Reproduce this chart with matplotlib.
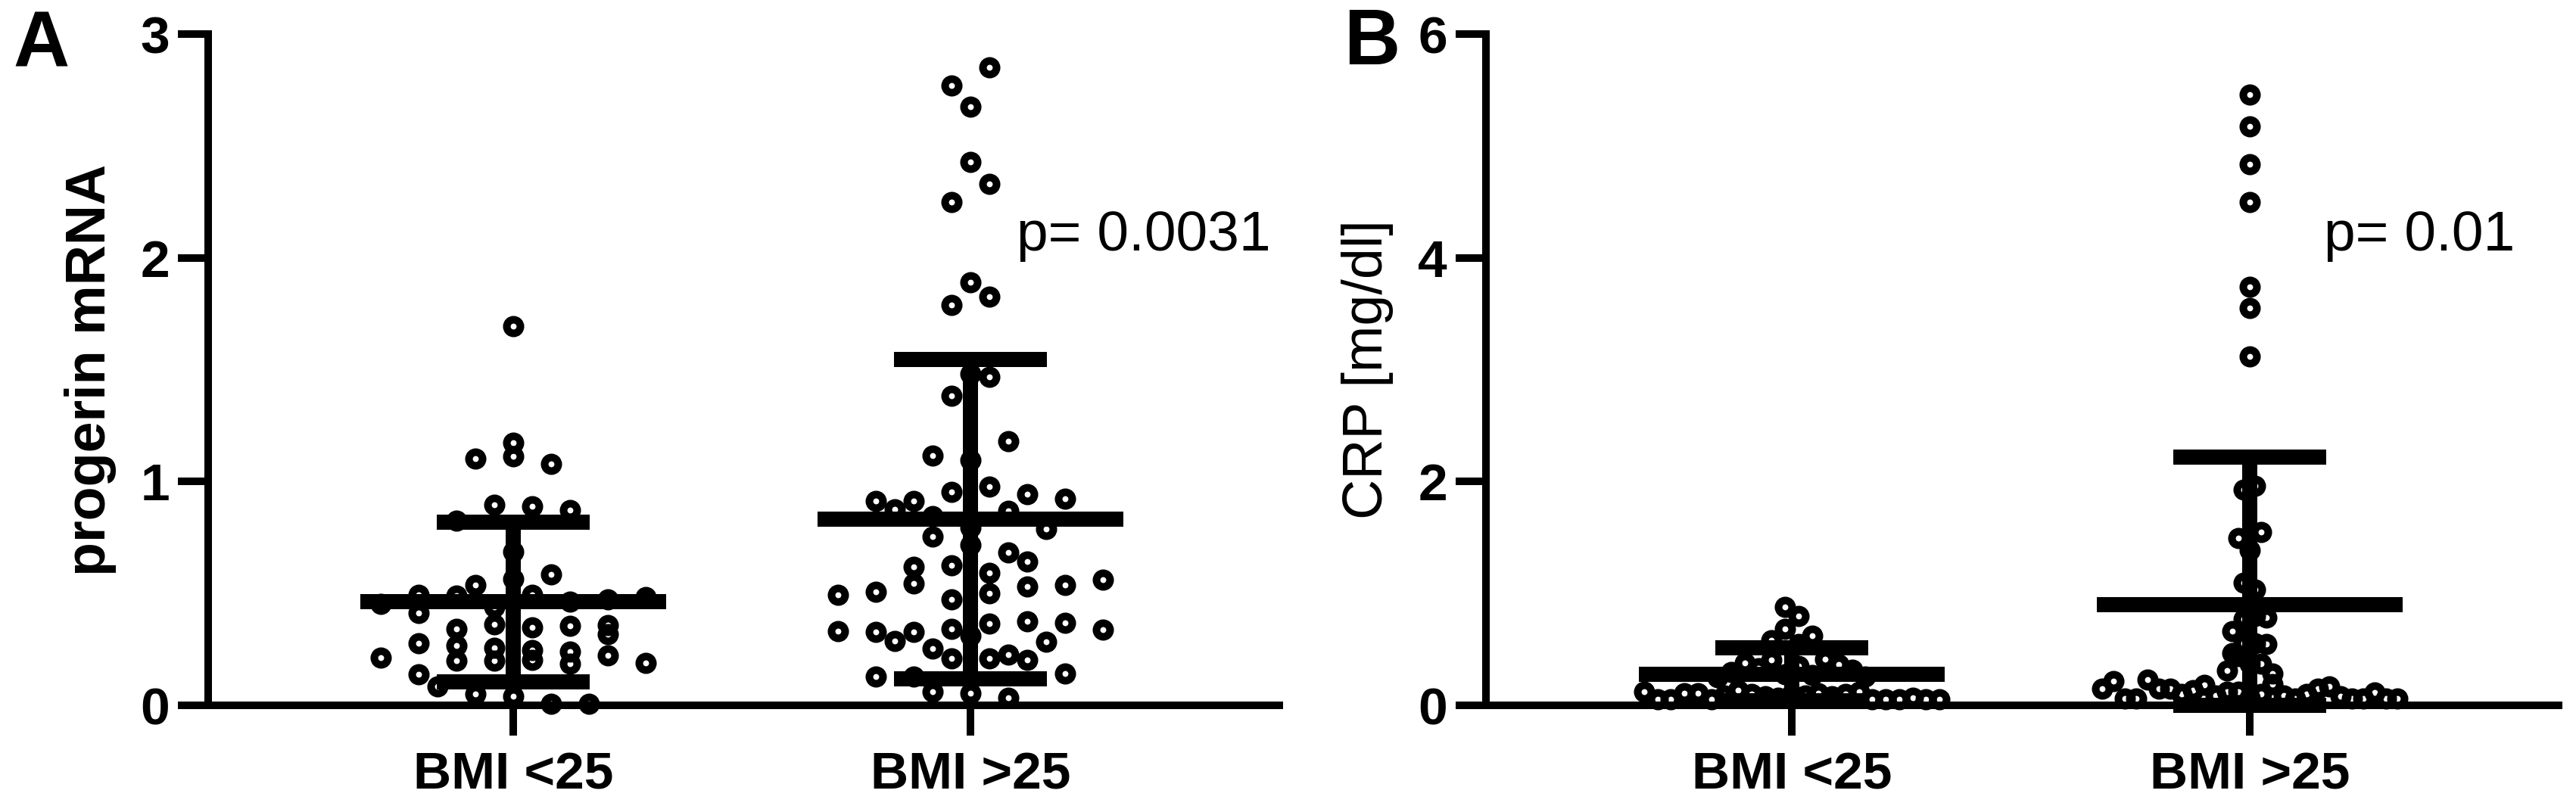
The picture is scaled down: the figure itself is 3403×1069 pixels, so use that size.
import numpy as np
import matplotlib
matplotlib.use("Agg")
import matplotlib.pyplot as plt

plt.rcParams['font.family'] = ['Liberation Sans', 'DejaVu Sans']

# ---------------- data ----------------
categories = ['BMI <25', 'BMI >25']

progerin_bmi_lt25 = [0.083, 0.050, 0.042, 0.008, 0.006,
                     0.212, 0.139, 0.200, 0.200, 0.204, 0.186, 0.224, 0.190,
                     0.279, 0.267, 0.258, 0.246, 0.240, 0.317,
                     0.412, 0.343, 0.362, 0.347, 0.355, 0.358,
                     0.453, 0.495, 0.489, 0.440, 0.495, 0.465, 0.473, 0.483,
                     0.539, 0.566, 0.585,
                     0.685,
                     0.825, 0.896, 0.889, 0.871,
                     1.101, 1.114, 1.080,
                     1.174,
                     1.696]

progerin_bmi_gt25 = [0.061, 0.055, 0.035,
                     0.129, 0.129, 0.210, 0.210, 0.204, 0.142,
                     0.289, 0.255, 0.311, 0.227, 0.285,
                     0.331, 0.327, 0.327, 0.343, 0.364, 0.374, 0.370, 0.339,
                     0.495, 0.506, 0.546, 0.472, 0.499, 0.530, 0.537, 0.560,
                     0.618, 0.627, 0.591, 0.644,
                     0.753, 0.717, 0.683,
                     0.875, 0.847, 0.796, 0.869, 0.789,
                     0.912, 0.912, 0.954, 0.977, 0.945, 0.922,
                     1.116, 1.095, 1.181,
                     1.385, 1.467, 1.483,
                     1.790, 1.827, 1.891,
                     2.250, 2.329, 2.428,
                     2.676, 2.771, 2.850]

crp_bmi_lt25 = [0.120, 0.054, 0.054, 0.108, 0.108, 0.054, 0.090, 0.137, 0.100,
                0.080, 0.070, 0.100, 0.090, 0.110, 0.080, 0.100, 0.120, 0.054,
                0.054, 0.054, 0.065, 0.054, 0.054,
                0.250, 0.300, 0.379, 0.330, 0.408, 0.280, 0.350, 0.270,
                0.413, 0.363, 0.320, 0.260,
                0.580, 0.680, 0.550, 0.622,
                0.880, 0.800]

crp_bmi_gt25 = [0.152, 0.215, 0.058, 0.058, 0.228, 0.150, 0.150, 0.100, 0.138,
                0.183, 0.090, 0.120, 0.120, 0.070, 0.100, 0.192, 0.090, 0.060,
                0.100, 0.150, 0.170, 0.080, 0.058, 0.058, 0.115, 0.058, 0.058,
                0.310, 0.440, 0.370, 0.370, 0.284,
                0.465, 0.555, 0.558, 0.550,
                0.663, 0.770, 0.800, 0.785,
                1.099, 1.038,
                1.497, 1.387, 1.551,
                1.928, 1.965,
                3.116, 3.554, 3.741, 4.497, 4.835, 5.176, 5.457]

progerin_mean = [0.463, 0.832]
progerin_sd = [0.357, 0.713]
crp_mean = [0.279, 0.898]
crp_sd = [0.237, 1.32]

progerin_yticks = [0, 1, 2, 3]
crp_yticks = [0, 2, 4, 6]
p_texts = ['p= 0.0031', 'p= 0.01']

# ---------------- layout helpers ----------------
W, H, DPI = 3403, 1069, 100
fig = plt.figure(figsize=(W / DPI, H / DPI), dpi=DPI)

ax_a = fig.add_axes([275 / W, 1 - 932 / H, 1415 / W, 887 / H])
ax_b = fig.add_axes([1963 / W, 1 - 932 / H, 1417 / W, 887 / H])


def swarm_offsets(values, row_h, max_step, max_width):
    vals = np.asarray(values, dtype=float)
    order = np.argsort(vals, kind='stable')
    rows, cur, start = [], [], None
    for i in order:
        if start is None or vals[i] >= start + row_h:
            if cur:
                rows.append(cur)
            cur, start = [i], vals[i]
        else:
            cur.append(i)
    if cur:
        rows.append(cur)
    nmax = max(len(r) for r in rows)
    step = max_step if nmax < 2 else min(max_step, max_width / (nmax - 1))
    off = np.zeros(len(vals))
    for r in rows:
        r = sorted(r)
        n = len(r)
        for k, i in enumerate(r):
            off[i] = (k - (n - 1) / 2) * step
    return off


def panel(ax, groups, means, sds, yticks, ylabel, ylabel_weight, ptext, pxy):
    ax.set_xlim(-0.668, 1.675)
    ax.set_ylim(yticks[0], yticks[-1])
    p0 = ax.transData.transform((0, 0))
    p1 = ax.transData.transform((1, 1))
    px_x = p1[0] - p0[0]
    px_y = p1[1] - p0[1]

    for i, vals in enumerate(groups):
        off = swarm_offsets(vals, 26.6 / px_y, 50 / px_x, 390 / px_x)
        ax.plot(i + off, vals, 'o', ms=13, mew=7.2, mfc='none', mec='black',
                clip_on=False, zorder=3, linestyle='none')

    for i, (m, s) in enumerate(zip(means, sds)):
        lo = max(m - s, 0)
        hi = m + s
        ax.vlines(i, lo, hi, colors='black', lw=14.4, capstyle='butt',
                  zorder=4, clip_on=False)
        ax.hlines(m, i - 202 / px_x, i + 202 / px_x, colors='black', lw=14.4,
                  capstyle='butt', zorder=4, clip_on=False)
        ax.hlines([lo, hi], i - 101 / px_x, i + 101 / px_x, colors='black',
                  lw=14.4, capstyle='butt', zorder=4, clip_on=False)

    for sp in ['top', 'right']:
        ax.spines[sp].set_visible(False)
    for sp in ['left', 'bottom']:
        ax.spines[sp].set_linewidth(7.2)
        ax.spines[sp].set_zorder(5)

    ax.set_xticks(range(len(categories)))
    ax.set_xticklabels(categories)
    ax.set_yticks(yticks)
    ax.set_yticklabels([str(t) for t in yticks])
    ax.tick_params(axis='both', length=28.8, width=7.2, direction='out',
                   labelsize=50, color='black')
    ax.tick_params(axis='y', pad=8)
    ax.tick_params(axis='x', pad=15)
    for lbl in ax.get_xticklabels() + ax.get_yticklabels():
        lbl.set_fontweight('bold')
    ax.minorticks_off()

    ax.set_ylabel(ylabel, fontsize=53, fontweight=ylabel_weight)
    lab = ax.yaxis.label
    lab.set_rotation_mode('default')
    lab.set_horizontalalignment('left')
    lab.set_verticalalignment('center')
    ax.yaxis.set_label_coords(-0.1345, 0.5)

    ax.text(pxy[0], pxy[1], ptext, fontsize=54, ha='left', va='baseline')


panel(ax_a, [progerin_bmi_lt25, progerin_bmi_gt25], progerin_mean, progerin_sd,
      progerin_yticks, 'progerin mRNA', 'bold', p_texts[0], (1.101, 2.032))
panel(ax_b, [crp_bmi_lt25, crp_bmi_gt25], crp_mean, crp_sd,
      crp_yticks, 'CRP [mg/dl]', 'normal', p_texts[1], (1.162, 4.066))

fig.text(17 / W, 1 - 87 / H, 'A', fontsize=74, fontweight='bold',
         ha='left', va='baseline')
fig.text(1775 / W, 1 - 85 / H, 'B', fontsize=74, fontweight='bold',
         ha='left', va='baseline')

fig.savefig('out.png', dpi=DPI)
